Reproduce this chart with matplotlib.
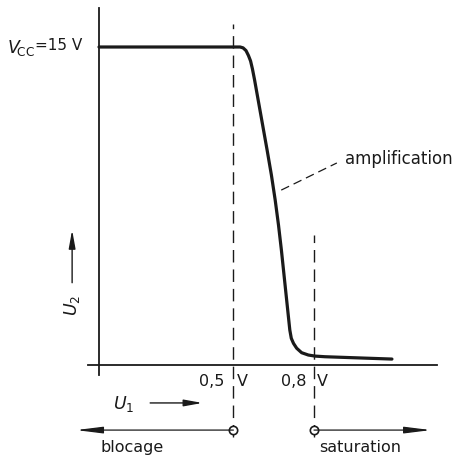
import matplotlib
matplotlib.use("Agg")
import matplotlib.pyplot as plt
import numpy as np

# Transfer characteristic U2 = f(U1)
u1 = [0.0, 0.525, 0.536, 0.547, 0.556, 0.564, 0.571, 0.579, 0.6255, 0.6415, 0.6556,
      0.6679, 0.6787, 0.6943, 0.710, 0.7155, 0.7237, 0.7356, 0.754, 0.779, 0.804,
      0.841, 1.09]
u2 = [15.0, 15.0, 14.96, 14.83, 14.60, 14.34, 13.96, 13.44, 10.14, 8.96, 7.78,
      6.60, 5.42, 3.54, 1.65, 1.26, 1.02, 0.79, 0.58, 0.47, 0.42,
      0.39, 0.28]

vcc = 15
u_block = 0.5
u_sat = 0.8
tick_labels = ["0,5", "0,8"]
region_labels = ["blocage", "saturation"]

W, H = 459, 457
fig = plt.figure(figsize=(W / 100, H / 100), dpi=100)
ax = fig.add_axes([0, 0, 1, 1])
ax.axis("off")

px_per_v_x = 268.75
px_per_v_y = 21.2
x0_px, y0_px = 99, 365
ax.set_xlim(-x0_px / px_per_v_x, (W - x0_px) / px_per_v_x)
ax.set_ylim((y0_px - H) / px_per_v_y, y0_px / px_per_v_y)

k = "#1a1a1a"
fs = 11.5

# axes
ax.plot([0, 0], [-0.47, 16.84], color=k, lw=1.3)
ax.plot([-0.041, 1.258], [0, 0], color=k, lw=1.3)

# curve
ax.plot(u1, u2, color=k, lw=2.3, solid_capstyle="round", solid_joinstyle="round")

# dashed boundary lines
ax.plot([u_block, u_block], [-3.4, 16.1], color=k, lw=1.0, dashes=(9, 5))
ax.plot([u_sat, u_sat], [-3.4, 6.13], color=k, lw=1.0, dashes=(9, 5))

# labels under x axis
yl = -0.8
ax.text(u_block - 0.08, yl, tick_labels[0], ha="center", va="center", fontsize=fs, color=k)
ax.text(u_block + 0.035, yl, "V", ha="center", va="center", fontsize=fs, color=k)
ax.text(u_sat - 0.075, yl, tick_labels[1], ha="center", va="center", fontsize=fs, color=k)
ax.text(u_sat + 0.033, yl, "V", ha="center", va="center", fontsize=fs, color=k)

# U1 arrow
ax.text(0.09, -1.85, r"$\mathit{U}_1$", ha="center", va="center", fontsize=fs + 1, color=k)
ax.annotate("", xy=(0.395, -1.79), xytext=(0.18, -1.79),
            arrowprops=dict(arrowstyle="-|>,head_length=1.1,head_width=0.2", color=k, lw=1.0))

# region arrows
yr = -3.07
ax.annotate("", xy=(-0.085, yr), xytext=(u_block, yr),
            arrowprops=dict(arrowstyle="-|>,head_length=1.6,head_width=0.2", color=k, lw=0.9,
                            shrinkA=0, shrinkB=0))
ax.annotate("", xy=(1.235, yr), xytext=(u_sat, yr),
            arrowprops=dict(arrowstyle="-|>,head_length=1.6,head_width=0.2", color=k, lw=0.9,
                            shrinkA=0, shrinkB=0))
ax.plot([u_block, u_sat], [yr, yr], linestyle="none", marker="o", ms=6,
        mfc="white", mec=k, mew=1.2)
ax.text(0.123, -3.87, region_labels[0], ha="center", va="center", fontsize=fs, color=k)
ax.text(0.97, -3.87, region_labels[1], ha="center", va="center", fontsize=fs, color=k)

# U2 label + arrow
ax.text(-0.1, 2.8, r"$\mathit{U}_2$", ha="center", va="center", fontsize=fs + 1,
        rotation=90, color=k)
ax.annotate("", xy=(-0.1, 6.5), xytext=(-0.1, 3.75),
            arrowprops=dict(arrowstyle="-|>,head_length=1.1,head_width=0.2", color=k, lw=1.0))

# Vcc label
xv = -0.236
ax.text(xv, vcc - 0.05, r"$\mathit{V}_{\!\mathrm{CC}}$", ha="right", va="center",
        fontsize=12.5, color=k)
ax.text(xv - 0.002, vcc + 0.05, "=15 V", ha="left", va="center", fontsize=11, color=k)

# amplification label
ax.plot([0.678, 0.885], [8.25, 9.53], color=k, lw=0.9, dashes=(7, 4))
ax.text(0.915, 9.7, "amplification", ha="left", va="center", fontsize=fs + 0.5, color=k)

fig.savefig("out.png", dpi=100, facecolor="white")
